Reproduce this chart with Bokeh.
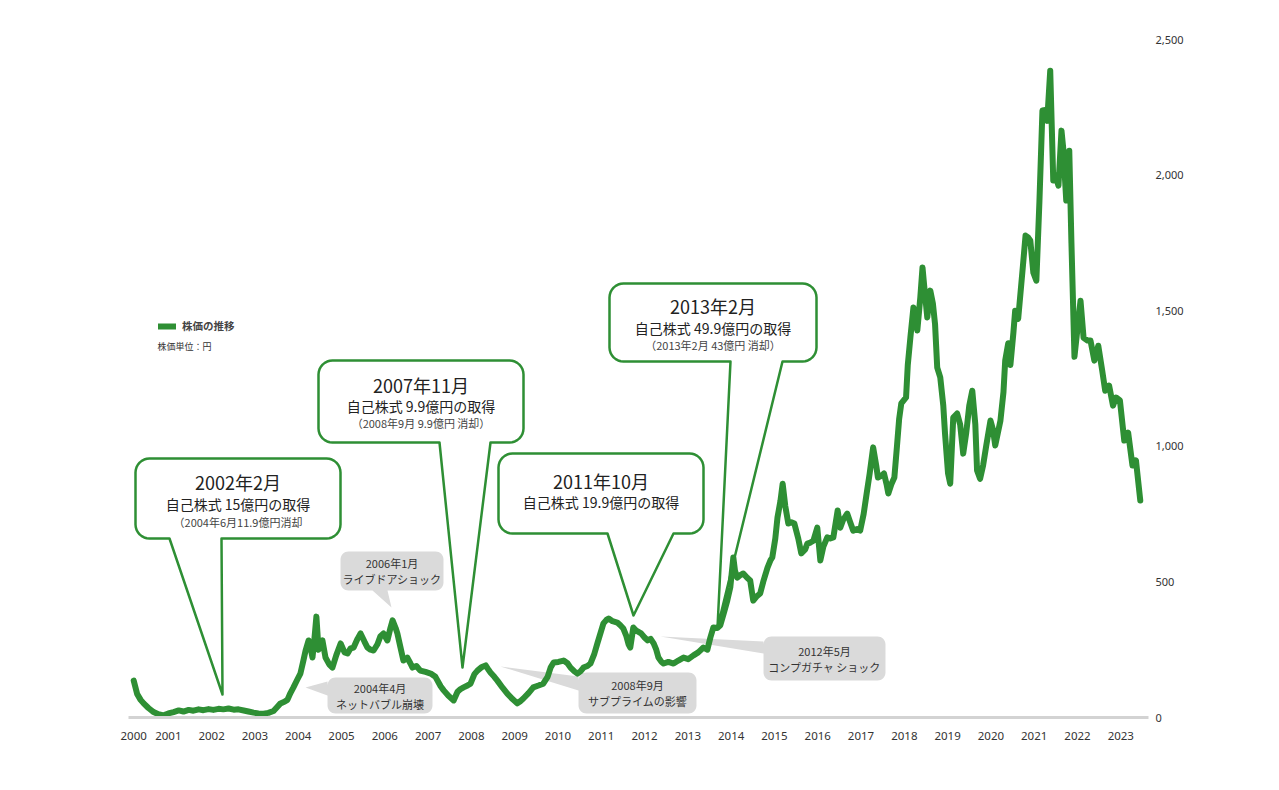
import math
from bokeh.plotting import figure
from bokeh.models import Range1d, FixedTicker, Legend, LegendItem, Label, NumeralTickFormatter
from bokeh.core.properties import value
from bokeh.embed import file_html
from bokeh.resources import INLINE

# ---------------- data ----------------
years = [
    2000.20, 2000.28, 2000.36, 2000.43, 2000.54, 2000.66, 2000.77, 2000.89, 2001.00, 2001.12,
    2001.24, 2001.35, 2001.47, 2001.58, 2001.70, 2001.81, 2001.93, 2002.04, 2002.16, 2002.27,
    2002.39, 2002.51, 2002.62, 2002.74, 2002.85, 2002.97, 2003.08, 2003.20, 2003.31, 2003.43,
    2003.52, 2003.59, 2003.68, 2003.75, 2003.82, 2003.89, 2003.98, 2004.05, 2004.12, 2004.17,
    2004.24, 2004.28, 2004.33, 2004.38, 2004.42, 2004.47, 2004.51, 2004.56, 2004.63, 2004.72,
    2004.79, 2004.88, 2004.98, 2005.07, 2005.14, 2005.21, 2005.28, 2005.37, 2005.44, 2005.53,
    2005.60, 2005.67, 2005.74, 2005.83, 2005.90, 2005.97, 2006.06, 2006.13, 2006.18, 2006.25,
    2006.29, 2006.36, 2006.43, 2006.48, 2006.52, 2006.59, 2006.64, 2006.73, 2006.82, 2006.94,
    2007.06, 2007.17, 2007.29, 2007.36, 2007.47, 2007.59, 2007.68, 2007.75, 2007.82, 2007.91,
    2007.98, 2008.07, 2008.14, 2008.23, 2008.33, 2008.40, 2008.44, 2008.53, 2008.60, 2008.72,
    2008.83, 2008.95, 2009.06, 2009.13, 2009.20, 2009.32, 2009.43, 2009.55, 2009.66, 2009.76,
    2009.83, 2009.90, 2010.01, 2010.13, 2010.22, 2010.29, 2010.38, 2010.45, 2010.52, 2010.59,
    2010.68, 2010.75, 2010.84, 2010.91, 2010.98, 2011.05, 2011.12, 2011.17, 2011.26, 2011.37,
    2011.44, 2011.51, 2011.58, 2011.63, 2011.67, 2011.74, 2011.81, 2011.92, 2012.00, 2012.07,
    2012.14, 2012.21, 2012.27, 2012.32, 2012.39, 2012.44, 2012.55, 2012.67, 2012.78, 2012.90,
    2013.01, 2013.13, 2013.24, 2013.36, 2013.45, 2013.52, 2013.59, 2013.68, 2013.75, 2013.84,
    2013.91, 2013.98, 2014.05, 2014.09, 2014.14, 2014.21, 2014.28, 2014.37, 2014.44, 2014.51,
    2014.58, 2014.67, 2014.74, 2014.84, 2014.91, 2014.95, 2015.02, 2015.07, 2015.14, 2015.19,
    2015.25, 2015.32, 2015.39, 2015.46, 2015.55, 2015.62, 2015.71, 2015.76, 2015.83, 2015.90,
    2015.99, 2016.06, 2016.13, 2016.22, 2016.29, 2016.36, 2016.46, 2016.52, 2016.59, 2016.68,
    2016.75, 2016.82, 2016.91, 2016.98, 2017.06, 2017.13, 2017.20, 2017.28, 2017.35, 2017.39,
    2017.46, 2017.53, 2017.59, 2017.63, 2017.70, 2017.77, 2017.83, 2017.88, 2017.93, 2017.99,
    2018.04, 2018.08, 2018.14, 2018.21, 2018.25, 2018.30, 2018.37, 2018.42, 2018.46, 2018.53,
    2018.60, 2018.66, 2018.71, 2018.76, 2018.83, 2018.90, 2018.94, 2019.01, 2019.06, 2019.13,
    2019.22, 2019.29, 2019.36, 2019.43, 2019.50, 2019.57, 2019.64, 2019.68, 2019.75, 2019.82,
    2019.89, 2019.99, 2020.05, 2020.10, 2020.22, 2020.29, 2020.33, 2020.40, 2020.45, 2020.52,
    2020.56, 2020.63, 2020.73, 2020.80, 2020.86, 2020.91, 2020.98, 2021.05, 2021.12, 2021.19,
    2021.26, 2021.30, 2021.37, 2021.44, 2021.49, 2021.56, 2021.63, 2021.67, 2021.74, 2021.81,
    2021.86, 2021.93, 2021.99, 2022.07, 2022.14, 2022.23, 2022.30, 2022.39, 2022.48, 2022.57,
    2022.64, 2022.73, 2022.82, 2022.89, 2022.98, 2023.08, 2023.17, 2023.27, 2023.35, 2023.45,
]
price = [
    136, 87, 65, 52, 35, 20, 12, 8, 15, 20,
    26, 22, 28, 25, 30, 27, 31, 28, 32, 30,
    33, 29, 30, 26, 22, 18, 15, 14, 17, 24,
    40, 52, 58, 65, 90, 111, 140, 162, 210, 247,
    284, 260, 221, 300, 372, 250, 270, 284, 221, 195,
    184, 230, 273, 240, 236, 255, 258, 290, 310, 280,
    258, 250, 247, 270, 300, 310, 284, 330, 358, 330,
    310, 260, 210, 215, 221, 200, 184, 190, 173, 168,
    162, 150, 115, 100, 80, 63, 95, 105, 111, 118,
    125, 160, 173, 185, 192, 175, 166, 150, 136, 110,
    88, 68, 52, 60, 70, 90, 111, 118, 125, 150,
    184, 203, 205, 210, 200, 184, 170, 162, 170, 184,
    190, 199, 235, 273, 310, 347, 360, 365, 355, 350,
    340, 328, 300, 270, 258, 332, 320, 310, 295, 284,
    290, 273, 250, 221, 205, 199, 205, 199, 210, 221,
    215, 229, 240, 258, 250, 295, 332, 330, 340, 390,
    431, 480, 590, 540, 516, 525, 531, 515, 505, 431,
    445, 457, 500, 553, 580, 590, 660, 737, 800, 862,
    780, 715, 720, 715, 660, 605, 620, 641, 645, 652,
    700, 579, 630, 664, 660, 664, 763, 700, 730, 752,
    720, 689, 695, 689, 750, 826, 900, 996, 930, 885,
    890, 900, 860, 826, 860, 885, 1000, 1100, 1158, 1170,
    1180, 1300, 1401, 1512, 1480, 1427, 1550, 1659, 1590, 1475,
    1574, 1526, 1450, 1290, 1254, 1150, 1047, 900, 862, 1106,
    1121, 1080, 973, 1050, 1150, 1205, 1080, 911, 880, 930,
    1000, 1095, 1060, 1003, 1095, 1200, 1316, 1380, 1300, 1420,
    1500, 1470, 1648, 1777, 1770, 1759, 1640, 1611, 1900, 2238,
    2240, 2200, 2385, 1980, 2000, 1961, 2164, 2100, 1906, 2090,
    1750, 1330, 1420, 1537, 1400, 1390, 1390, 1316, 1371, 1280,
    1205, 1224, 1150, 1180, 1169, 1021, 1050, 929, 948, 800,
]

x_tick_pos = [2000.2, 2001, 2002, 2003, 2004, 2005, 2006, 2007, 2008, 2009, 2010, 2011,
              2012, 2013, 2014, 2015, 2016, 2017, 2018, 2019, 2020, 2021, 2022, 2023]
x_tick_labels = ["2000", "2001", "2002", "2003", "2004", "2005", "2006", "2007", "2008",
                 "2009", "2010", "2011", "2012", "2013", "2014", "2015", "2016", "2017",
                 "2018", "2019", "2020", "2021", "2022", "2023"]
y_ticks = [0, 500, 1000, 1500, 2000, 2500]

# ---------------- layout constants ----------------
W, H = 1279, 790
FL, FR, FT, FB = 128, 1148, 39, 717
X0, X1 = 2000.08, 2023.64
Y0, Y1 = 0, 2500
JP = "Noto Sans CJK JP"
GREEN = "#2e8f34"


def dx(px):
    return X0 + (px - FL) * (X1 - X0) / (FR - FL)


def dy(py):
    return Y0 + (FB - py) * (Y1 - Y0) / (FB - FT)


def bubble_path(x0, y0, x1, y1, r, side=None, base=None, tip=None, n=8):
    pts = []

    def arc(cx, cy, a0, a1):
        for i in range(n + 1):
            a = math.radians(a0 + (a1 - a0) * i / n)
            pts.append((cx + r * math.cos(a), cy + r * math.sin(a)))

    arc(x1 - r, y0 + r, -90, 0)
    arc(x1 - r, y1 - r, 0, 90)
    if side == "bottom":
        pts.extend([(base[1], y1), tip, (base[0], y1)])
    arc(x0 + r, y1 - r, 90, 180)
    if side == "left":
        pts.extend([(x0, base[1]), tip, (x0, base[0])])
    arc(x0 + r, y0 + r, 180, 270)
    return [dx(p[0]) for p in pts], [dy(p[1]) for p in pts]


p = figure(width=W, height=H, x_range=Range1d(X0, X1), y_range=Range1d(Y0, Y1),
           output_backend="svg", toolbar_location=None, y_axis_location="right",
           min_border_left=FL, min_border_right=W - FR, min_border_top=FT,
           min_border_bottom=H - FB)
p.grid.visible = False
p.outline_line_color = None
p.background_fill_color = "white"
p.border_fill_color = "white"

# x axis
p.xaxis.ticker = FixedTicker(ticks=x_tick_pos)
p.xaxis.major_label_overrides = {t: l for t, l in zip(x_tick_pos, x_tick_labels)}
p.xaxis.axis_line_color = "#d3d3d3"
p.xaxis.axis_line_width = 3
p.xaxis.major_tick_line_color = None
p.xaxis.minor_tick_line_color = None
p.xaxis.major_label_standoff = 8
p.xaxis.major_label_text_font = "Noto Sans"
p.xaxis.major_label_text_font_size = "11.5px"
p.xaxis.major_label_text_color = "#333333"

# y axis (right)
p.yaxis.ticker = FixedTicker(ticks=y_ticks)
p.yaxis.formatter = NumeralTickFormatter(format="0,0")
p.yaxis.axis_line_color = None
p.yaxis.major_tick_line_color = None
p.yaxis.minor_tick_line_color = None
p.yaxis.major_label_standoff = 1
p.yaxis.major_label_text_font = "Noto Sans"
p.yaxis.major_label_text_font_size = "11px"
p.yaxis.major_label_text_color = "#333333"

# ---------------- callouts ----------------
green_callouts = [
    dict(box=(135, 458, 340, 538), base=(169, 221), tip=(222, 694),
         lines=[("2002年2月", "18px", 481, "#222222"),
                ("自己株式 15億円の取得", "14px", 503, "#222222"),
                ("（2004年6月11.9億円消却", "11px", 521, "#444444")]),
    dict(box=(318, 360, 523, 442), base=(439, 490), tip=(462, 667),
         lines=[("2007年11月", "18px", 384, "#222222"),
                ("自己株式 9.9億円の取得", "14px", 405, "#222222"),
                ("（2008年9月 9.9億円 消却）", "11px", 422, "#444444")]),
    dict(box=(498, 453, 703, 533), base=(607, 673), tip=(633, 615),
         lines=[("2011年10月", "18px", 480, "#222222"),
                ("自己株式 19.9億円の取得", "14px", 501, "#222222")]),
    dict(box=(609, 283, 816, 361), base=(730, 782), tip=(717, 627),
         lines=[("2013年2月", "18px", 305, "#222222"),
                ("自己株式 49.9億円の取得", "14px", 327, "#222222"),
                ("（2013年2月 43億円 消却）", "11px", 344, "#444444")]),
]

gray_callouts = [
    dict(box=(340, 551, 443, 590), side="bottom", base=(372, 387), tip=(391, 607),
         lines=["2006年1月", "ライブドアショック"]),
    dict(box=(327, 677, 432, 713), side="left", base=(681, 695), tip=(305, 687),
         lines=["2004年4月", "ネットバブル崩壊"]),
    dict(box=(578, 672, 696, 713), side="left", base=(676, 690), tip=(500, 666),
         lines=["2008年9月", "サブプライムの影響"]),
    dict(box=(763, 636, 885, 680), side="left", base=(641, 653), tip=(660, 636),
         lines=["2012年5月", "コンプガチャ ショック"]),
]

for c in gray_callouts:
    x0, y0, x1, y1 = c["box"]
    xs, ys = bubble_path(x0, y0, x1, y1, 8, c["side"], c["base"], c["tip"])
    p.patch(xs, ys, fill_color="#dadada", line_color=None)
    cx = (x0 + x1) / 2
    cy = (y0 + y1) / 2
    p.text(x=[dx(cx), dx(cx)], y=[dy(cy - 8), dy(cy + 8)], text=c["lines"],
           text_font=value(JP), text_font_size="11px", text_color="#333333",
           text_align="center", text_baseline="middle")

for c in green_callouts:
    x0, y0, x1, y1 = c["box"]
    xs, ys = bubble_path(x0, y0, x1, y1, 14, "bottom", c["base"], c["tip"])
    p.patch(xs, ys, fill_color="white", line_color=GREEN, line_width=2.5,
            line_join="round")
    cx = (x0 + x1) / 2
    for txt, size, ly, col in c["lines"]:
        p.text(x=[dx(cx)], y=[dy(ly)], text=[txt], text_font=value(JP),
               text_font_size=size, text_color=col, text_align="center",
               text_baseline="middle")

# ---------------- price line ----------------
r = p.line(years, price, line_color=GREEN, line_width=6, line_join="round",
           line_cap="round")

legend = Legend(items=[LegendItem(label="株価の推移", renderers=[r])],
                location=(30, 384), border_line_color=None, background_fill_alpha=0,
                padding=0, margin=0, glyph_width=18, glyph_height=12, label_height=12,
                label_standoff=6, spacing=0, label_text_font=JP,
                label_text_font_size="10.5px", label_text_font_style="bold",
                label_text_color="#444444")
p.add_layout(legend)

p.add_layout(Label(x=dx(157), y=dy(346), text="株価単位：円", text_font=JP,
                   text_font_size="9px", text_color="#333333", text_baseline="middle"))

open("out.html", "w").write(file_html(p, INLINE))
